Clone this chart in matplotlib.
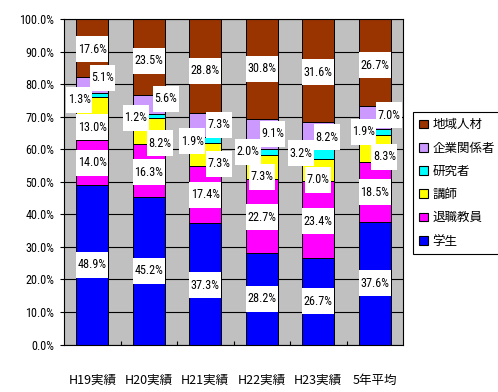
import matplotlib
matplotlib.use('Agg')
import matplotlib.pyplot as plt
from matplotlib import font_manager
from matplotlib.patches import Patch
from matplotlib.path import Path
from matplotlib.ticker import FuncFormatter
import numpy as np

categories = ['H19実績', 'H20実績', 'H21実績', 'H22実績', 'H23実績', '5年平均']
series_names = ['学生', '退職教員', '講師', '研究者', '企業関係者', '地域人材']

gakusei = [48.9, 45.2, 37.3, 28.2, 26.7, 37.6]
taishoku = [14.0, 16.3, 17.4, 22.7, 23.4, 18.5]
koushi = [13.0, 8.2, 7.3, 7.3, 7.0, 8.3]
kenkyu = [1.3, 1.2, 1.9, 2.0, 3.2, 1.9]
kigyou = [5.1, 5.6, 7.3, 9.1, 8.2, 7.0]
chiiki = [17.6, 23.5, 28.8, 30.8, 31.6, 26.7]

series = [gakusei, taishoku, koushi, kenkyu, kigyou, chiiki]
colors = ['#0000FF', '#FF00FF', '#FFFF00', '#00FFFF', '#CC99FF', '#993300']

# label nudges (per category, per series): x in bar units, y in percent
label_dx = [
    [0, 0, 0, -0.23, 0.18, 0],
    [0, 0, 0.20, -0.23, 0.30, 0],
    [0, 0, 0.24, -0.23, 0.25, 0],
    [0, 0, 0, -0.24, 0.19, 0],
    [0, 0, 0, -0.31, 0.15, 0],
    [0, 0, 0.17, -0.20, 0.25, 0],
]
label_dy = [
    [0, 0, -2.6, -1.3, 2.2, -0.4],
    [0, -0.5, -3.7, -0.7, 1.8, -1.1],
    [-0.5, 0, -2.8, -0.5, 0, -1.5],
    [0, -0.5, -3.0, 0, 0, 0],
    [0, -0.5, -3.0, 0, -0.8, -0.7],
    [0, 0, -2.5, 0, 0.7, -0.8],
]

# pick a condensed face for the numbers if one is around
installed = {f.name for f in font_manager.fontManager.ttflist}
num_font = None
for cand in ['Liberation Sans Narrow', 'DejaVu Sans Condensed', 'Roboto Condensed',
             'Open Sans Condensed', 'Noto Sans Condensed']:
    if cand in installed:
        num_font = cand
        break
num_size = 8.7
if num_font is None:
    num_font = 'Liberation Sans'
    num_size = 8.0
NARROW = [num_font, 'DejaVu Sans']
CJK = ['Noto Sans CJK JP', 'DejaVu Sans']


def label_box(x0, y0, width, height, mutation_size):
    # white box: small side padding, fixed tall height like the excel labels
    padx = 1.5
    hh = 13.0
    cy = y0 + height / 2
    xa, xb = x0 - padx, x0 + width + padx
    verts = [(xa, cy - hh), (xb, cy - hh), (xb, cy + hh), (xa, cy + hh), (xa, cy - hh)]
    codes = [Path.MOVETO, Path.LINETO, Path.LINETO, Path.LINETO, Path.CLOSEPOLY]
    return Path(verts, codes)


fig = plt.figure(figsize=(4.98, 3.92), dpi=100)
ax = fig.add_axes([64 / 498, 1 - 344.5 / 392, (403 - 64) / 498, (344.5 - 19) / 392])
ax.set_facecolor('#C0C0C0')

x = np.arange(len(categories))
bottom = np.zeros(len(categories))
for k, (vals, col) in enumerate(zip(series, colors)):
    vals = np.array(vals)
    ax.bar(x, vals, 0.57, bottom=bottom, color=col, edgecolor='black',
           linewidth=0.7, zorder=2)
    for i in range(len(categories)):
        cy = bottom[i] + vals[i] / 2
        ax.text(x[i] + label_dx[i][k], cy + label_dy[i][k], f'{vals[i]:.1f}%',
                ha='center', va='center', fontsize=num_size, family=NARROW, zorder=4,
                bbox=dict(boxstyle=label_box, fc='white', ec='none'))
    bottom += vals

ax.set_xlim(-0.5, len(categories) - 0.5)
ax.set_ylim(0, 100)
ax.set_yticks(np.arange(0, 101, 10))
ax.yaxis.set_major_formatter(FuncFormatter(lambda v, p: f'{v:.1f}%'))
for lab in ax.get_yticklabels():
    lab.set_family(NARROW)
ax.tick_params(axis='y', direction='out', length=3, width=0.8, labelsize=num_size, pad=4)
ax.yaxis.grid(True, color='black', linewidth=0.8)
ax.set_axisbelow(True)

ax.set_xticks(x)
ax.set_xticklabels(categories, family=CJK, fontsize=9)
ax.tick_params(axis='x', which='major', length=0, pad=21)
ax.set_xticks(x[:-1] + 0.5, minor=True)
ax.tick_params(axis='x', which='minor', direction='in', length=3, width=0.8)

for sp in ax.spines.values():
    sp.set_color('black')
    sp.set_linewidth(0.8)

handles = [Patch(facecolor=c, edgecolor='black', linewidth=0.8) for c in colors]
leg = fig.legend(handles[::-1], series_names[::-1], loc='upper left',
                 bbox_to_anchor=(413 / 498, 1 - 112 / 392), bbox_transform=fig.transFigure,
                 borderaxespad=0, frameon=True, fancybox=False, framealpha=1,
                 edgecolor='black', prop={'family': CJK, 'size': 9},
                 handlelength=0.7, handleheight=0.7, handletextpad=0.35,
                 labelspacing=0.82, borderpad=0.5)
leg.get_frame().set_linewidth(0.8)

fig.savefig('out.png', dpi=100)
